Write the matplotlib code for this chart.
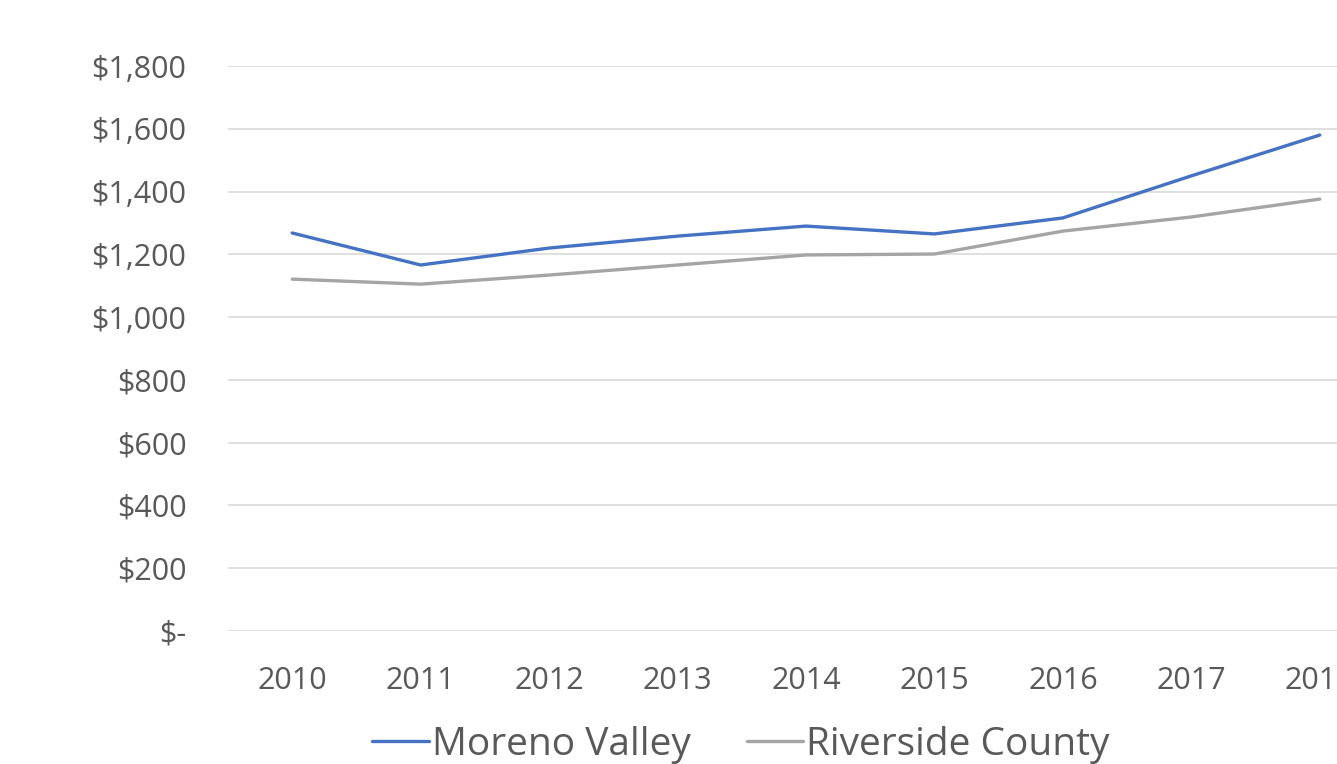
import matplotlib
matplotlib.use("Agg")
import matplotlib.pyplot as plt
from matplotlib.ticker import FuncFormatter, MultipleLocator

years = ["2010", "2011", "2012", "2013", "2014", "2015", "2016", "2017", "2018"]
moreno_valley = [1268, 1166, 1220, 1258, 1290, 1265, 1316, 1450, 1580]
riverside_county = [1121, 1105, 1134, 1166, 1198, 1201, 1274, 1319, 1376]

text_col = "#595959"
plt.rcParams["font.family"] = ["Open Sans", "DejaVu Sans"]

fig = plt.figure(figsize=(13.37, 7.64), dpi=100)
# axes runs past the right edge, like the cropped original
ax = fig.add_axes([228 / 1337, 133 / 764, 1156 / 1337, 565 / 764])

x = list(range(len(years)))
ax.plot(x, moreno_valley, color="#4472C4", lw=2.4, label="Moreno Valley",
        solid_capstyle="round")
ax.plot(x, riverside_county, color="#A5A5A5", lw=2.4, label="Riverside County",
        solid_capstyle="round")

ax.set_xlim(-0.5, len(years) - 0.5)
ax.set_ylim(0, 1800)
ax.yaxis.set_major_locator(MultipleLocator(200))
ax.yaxis.set_major_formatter(FuncFormatter(lambda v, p: "$-" if v == 0 else f"${v:,.0f}"))
ax.set_xticks(x)
ax.set_xticklabels(years)

ax.grid(axis="y", color="#D9D9D9", lw=1.2)
ax.set_axisbelow(True)
for s in ax.spines.values():
    s.set_visible(False)
ax.tick_params(axis="y", length=0, pad=30, labelsize=22, labelcolor=text_col)
ax.tick_params(axis="x", length=0, pad=25, labelsize=22, labelcolor=text_col)

fig.legend(loc="center", bbox_to_anchor=(741 / 1337, 1 - 745 / 764), ncol=2,
           frameon=False, fontsize=28, handlelength=1.45, handletextpad=0.08,
           columnspacing=1.45, labelcolor=text_col)

fig.savefig("out.png", dpi=100)
